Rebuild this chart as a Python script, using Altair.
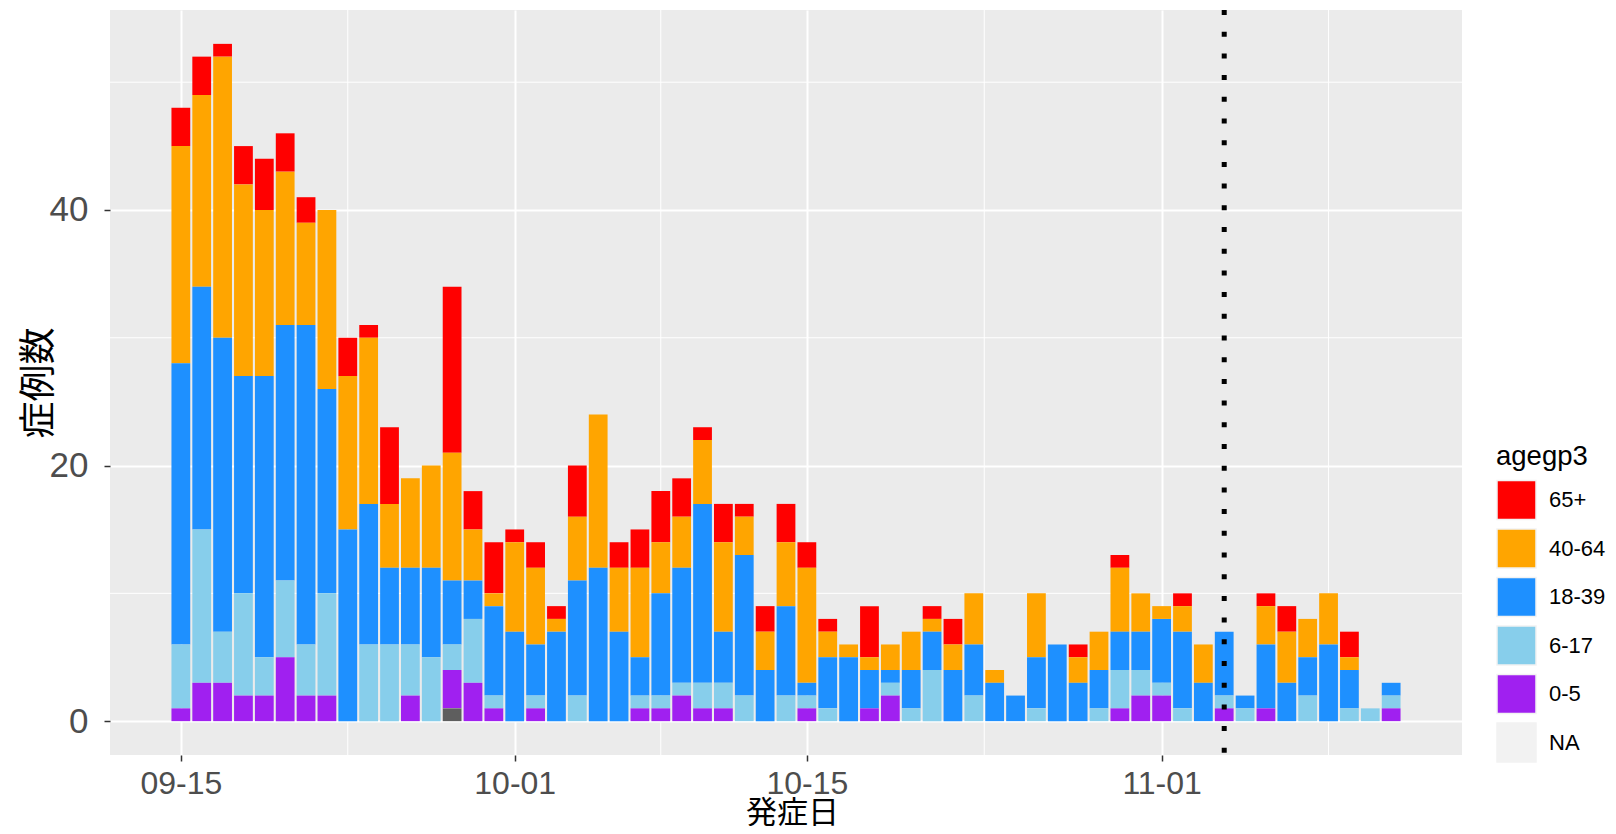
import altair as alt
import pandas as pd

# ---- data (counts per day, per age group) ----
dates = [
    "2020-09-15", "2020-09-16", "2020-09-17", "2020-09-18", "2020-09-19", "2020-09-20",
    "2020-09-21", "2020-09-22", "2020-09-23", "2020-09-24", "2020-09-25", "2020-09-26",
    "2020-09-27", "2020-09-28", "2020-09-29", "2020-09-30", "2020-10-01", "2020-10-02",
    "2020-10-03", "2020-10-04", "2020-10-05", "2020-10-06", "2020-10-07", "2020-10-08",
    "2020-10-09", "2020-10-10", "2020-10-11", "2020-10-12", "2020-10-13", "2020-10-14",
    "2020-10-15", "2020-10-16", "2020-10-17", "2020-10-18", "2020-10-19", "2020-10-20",
    "2020-10-21", "2020-10-22", "2020-10-23", "2020-10-24", "2020-10-25", "2020-10-26",
    "2020-10-27", "2020-10-28", "2020-10-29", "2020-10-30", "2020-10-31", "2020-11-01",
    "2020-11-02", "2020-11-03", "2020-11-04", "2020-11-05", "2020-11-06", "2020-11-07",
    "2020-11-08", "2020-11-09", "2020-11-10", "2020-11-11", "2020-11-12",
]
na_cnt = [0, 0, 0, 0, 0, 0, 0, 0, 0, 0, 0, 0, 0, 1, 0, 0, 0, 0, 0, 0,
          0, 0, 0, 0, 0, 0, 0, 0, 0, 0, 0, 0, 0, 0, 0, 0, 0, 0, 0, 0,
          0, 0, 0, 0, 0, 0, 0, 0, 0, 0, 0, 0, 0, 0, 0, 0, 0, 0, 0]
age_0_5 = [1, 3, 3, 2, 2, 5, 2, 2, 0, 0, 0, 2, 0, 3, 3, 1, 0, 1, 0, 0,
           0, 0, 1, 1, 2, 1, 1, 0, 0, 0, 1, 0, 0, 1, 2, 0, 0, 0, 0, 0,
           0, 0, 0, 0, 0, 1, 2, 2, 0, 0, 1, 0, 1, 0, 0, 0, 0, 0, 1]
age_6_17 = [5, 12, 4, 8, 3, 6, 4, 8, 0, 6, 6, 4, 5, 2, 5, 1, 0, 1, 0, 2,
            0, 0, 1, 1, 1, 2, 2, 2, 0, 2, 1, 1, 0, 0, 1, 1, 4, 0, 2, 0,
            0, 1, 0, 0, 1, 3, 2, 1, 1, 0, 1, 1, 0, 0, 2, 0, 1, 1, 1]
age_18_39 = [22, 19, 23, 17, 22, 20, 25, 16, 15, 11, 6, 6, 7, 5, 3, 7, 7, 4, 7, 9,
             12, 7, 3, 8, 9, 14, 4, 11, 4, 7, 1, 4, 5, 3, 1, 3, 3, 4, 4, 3,
             2, 4, 6, 3, 3, 3, 3, 5, 6, 3, 5, 1, 5, 3, 3, 6, 3, 0, 1]
age_40_64 = [17, 15, 22, 15, 13, 12, 8, 14, 12, 13, 5, 7, 8, 10, 4, 1, 7, 6, 1, 5,
             12, 5, 7, 4, 4, 5, 7, 3, 3, 5, 9, 2, 1, 1, 2, 3, 1, 2, 4, 1,
             0, 5, 0, 2, 3, 5, 3, 1, 2, 3, 0, 0, 3, 4, 3, 4, 1, 0, 0]
age_65p = [3, 3, 1, 3, 4, 3, 2, 0, 3, 1, 6, 0, 0, 13, 3, 4, 1, 2, 1, 4,
           0, 2, 3, 4, 3, 1, 3, 1, 2, 3, 2, 1, 0, 4, 0, 0, 1, 2, 0, 0,
           0, 0, 0, 1, 0, 1, 0, 0, 1, 0, 0, 0, 1, 2, 0, 0, 2, 0, 0]

groups = ["65+", "40-64", "18-39", "6-17", "0-5", "NA"]
group_colors = ["#FF0000", "#FFA500", "#1E90FF", "#87CEEB", "#A020F0", "#F2F2F2"]
stack_rank = [5, 4, 3, 2, 1, 0]
series = [age_65p, age_40_64, age_18_39, age_6_17, age_0_5, na_cnt]

x_major = ["2020-09-15", "2020-10-01", "2020-10-15", "2020-11-01"]
x_minor = ["2020-09-23", "2020-10-08", "2020-10-23T12:00:00", "2020-11-09"]
y_major = [0, 20, 40]
y_minor = [10, 30, 50]
cutoff = ["2020-11-04"]

# ---- build tables ----
rows = []
for g, r, vals in zip(groups, stack_rank, series):
    for d, v in zip(dates, vals):
        rows.append({"date": d, "group": g, "rank": r, "count": v})
df = pd.DataFrame(rows)

DAY = 86400000
def ms(s):
    return int(pd.Timestamp(s, tz="UTC").value // 10**6)

x_lo = ms(dates[0]) - 3.395 * DAY
x_hi = ms(dates[-1]) + 3.395 * DAY

CJK = "Noto Sans CJK JP"
LAT = "Liberation Sans"

xscale = alt.Scale(type="utc", domain=[x_lo, x_hi], nice=False)
yscale = alt.Scale(domain=[-2.65, 55.65], nice=False, zero=False)

xaxis = alt.Axis(
    values=[ms(d) for d in x_major],
    labelExpr="utcFormat(datum.value, '%m-%d')",
    title="発症日", grid=True, gridColor="white", gridWidth=2,
    domain=False, tickSize=6, tickColor="#333333", tickWidth=1.5,
    labelFont=LAT, labelFontSize=32, labelColor="#4D4D4D", labelPadding=7,
    labelFlush=False, labelOverlap=False,
    titleFont=CJK, titleFontSize=31, titleFontWeight="normal", titleColor="black",
    titleX=682, titleY=58, titleAlign="center", titleBaseline="middle",
)
yaxis = alt.Axis(
    values=y_major, title="症例数", grid=True, gridColor="white", gridWidth=2,
    domain=False, tickSize=6, tickColor="#333333", tickWidth=1.5,
    labelFont=LAT, labelFontSize=35, labelColor="#4D4D4D", labelPadding=16,
    titleFont=CJK, titleFontSize=37, titleFontWeight="normal", titleColor="black",
    titleAngle=270, titleX=-71, titleY=372.5, titleAlign="center", titleBaseline="middle",
)

minor_x_layer = alt.Chart(pd.DataFrame({"d": x_minor})).mark_rule(
    color="white", strokeWidth=1
).transform_calculate(t="toDate(datum.d)").encode(
    x=alt.X("t:T", scale=xscale, axis=xaxis)
)
minor_y_layer = alt.Chart(pd.DataFrame({"v": y_minor})).mark_rule(
    color="white", strokeWidth=1
).encode(
    y=alt.Y("v:Q", scale=yscale, axis=yaxis)
)

bars = alt.Chart(df).transform_stack(
    stack="count", groupby=["date"], as_=["y0", "y1"],
    sort=[alt.SortField("rank", order="ascending")],
).transform_calculate(
    start=f"toDate(datum.date) - 0.45*{DAY}",
    end=f"toDate(datum.date) + 0.45*{DAY}",
).mark_bar().encode(
    x=alt.X("start:T", scale=xscale, axis=xaxis),
    x2="end:T",
    y=alt.Y("y1:Q", scale=yscale, axis=yaxis),
    y2="y0:Q",
    color=alt.Color(
        "group:N",
        scale=alt.Scale(domain=groups, range=group_colors),
        legend=alt.Legend(
            title="agegp3", orient="none", legendX=1386, legendY=433,
            titleFont=LAT, titleFontSize=27.5, titleFontWeight="normal",
            titleColor="black", titlePadding=9,
            labelFont=LAT, labelFontSize=22, labelColor="black",
            labelOffset=12, labelLimit=200, symbolType="square", symbolSize=1521,
            symbolStrokeColor="#F2F2F2", symbolStrokeWidth=1.5,
            rowPadding=3.5, padding=0, symbolOpacity=1,
        ),
    ),
)

na_layer = alt.Chart(df).transform_filter(
    "datum.group == 'NA' && datum.count > 0"
).transform_calculate(
    start=f"toDate(datum.date) - 0.45*{DAY}",
    end=f"toDate(datum.date) + 0.45*{DAY}",
).mark_bar(color="#5E5E5E").encode(
    x=alt.X("start:T", scale=xscale, axis=xaxis),
    x2="end:T",
    y=alt.Y("count:Q", scale=yscale, axis=yaxis),
    y2=alt.datum(0),
)

vline = alt.Chart(pd.DataFrame({"d": cutoff})).transform_calculate(
    t="toDate(datum.d)"
).mark_rule(color="black", strokeWidth=5, strokeDash=[5, 16.7], strokeCap="butt").encode(
    x=alt.X("t:T", scale=xscale, axis=xaxis)
)

chart = alt.layer(minor_x_layer, minor_y_layer, bars, na_layer, vline).properties(
    width=1352, height=745,
    autosize=alt.AutoSizeParams(type="none"),
    padding={"left": 102, "top": 2, "right": 146, "bottom": 71},
    background="white",
).configure_view(fill="#EBEBEB", strokeWidth=0)

chart.save("out.html", embed_options={"renderer": "svg", "actions": False})
